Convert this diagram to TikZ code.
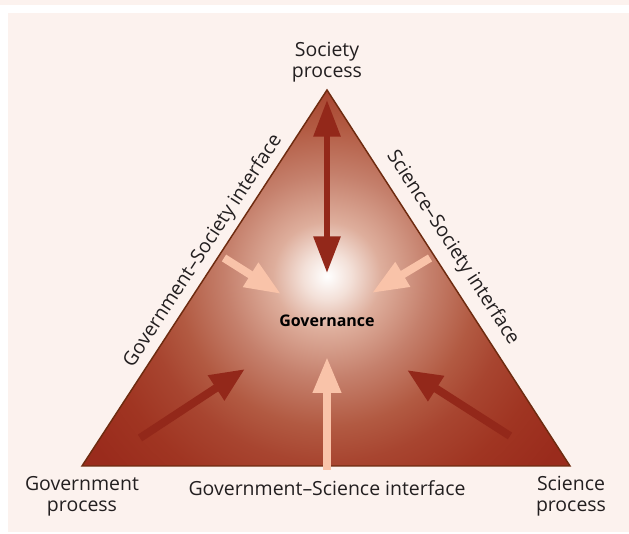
\documentclass[tikz,border=0pt]{standalone}
\usepackage{fontspec}
\setmainfont{Open Sans}
\usepackage{tikz}
\usetikzlibrary{arrows.meta,positioning}
\definecolor{gvpink}{RGB}{252,242,238}
\definecolor{gvred}{RGB}{154,43,28}
\definecolor{gvdark}{RGB}{147,40,26}
\definecolor{gvedge}{RGB}{110,43,16}
\definecolor{gvlight}{RGB}{249,195,169}
\definecolor{gvtext}{RGB}{35,31,32}
\definecolor{gvs1}{RGB}{243,224,216}
\definecolor{gvs2}{RGB}{222,174,156}
\definecolor{gvs3}{RGB}{197,128,108}
\definecolor{gvs4}{RGB}{178,90,66}
\definecolor{gvs5}{RGB}{168,69,48}
\definecolor{gvs6}{RGB}{160,53,34}
\pgfdeclareradialshading{gvglow}{\pgfpoint{0bp}{0bp}}{color(0bp)=(white); color(2bp)=(gvs1); color(4.5bp)=(gvs2); color(8.5bp)=(gvs3); color(12.5bp)=(gvs4); color(15.5bp)=(gvs5); color(19.5bp)=(gvs6); color(24bp)=(gvred); color(50bp)=(gvred)}
\tikzstyle{proclabel} = [font=\fontsize{14.6}{16}\selectfont, text=gvtext, align=center, inner sep=0pt]
\tikzstyle{darkarrow} = [draw=gvdark, line width=6pt, -{Triangle[length=26pt,width=21pt]}]
\tikzstyle{lightarrow} = [draw=gvlight, line width=6pt, -{Triangle[length=27pt,width=20pt]}]

\begin{document}
\begin{tikzpicture}[x=0.75pt, y=0.75pt]
\useasboundingbox (0,0) rectangle (629,534);
% Background
\fill[white] (0,0) rectangle (629,534);
\fill[gvpink] (0,529) rectangle (629,534);
\fill[gvpink] (8,2) rectangle (629,521);

% Corners of the triangle
\coordinate (soc) at (327,444);
\coordinate (gov) at (82,68);
\coordinate (sci) at (570,68);
\coordinate (glow) at (327,258);

% Triangle with glow
\fill[gvred] (gov) -- (soc) -- (sci) -- cycle;
\begin{scope}
\clip (gov) -- (soc) -- (sci) -- cycle;
\shade[shading=gvglow] (glow) circle (300);
\end{scope}
\draw[gvedge, line width=1.1pt, line join=miter] (gov) -- (soc) -- (sci) -- cycle;

% Arrows
\coordinate (soctop) at (327,434);
\coordinate (socmid) at (327,261);
\coordinate (gstail) at (224,276);
\coordinate (gstip) at (281,240);
\coordinate (sstail) at (430,276);
\coordinate (sstip) at (372,241);
\coordinate (gsctail) at (327,64);
\coordinate (gsctip) at (327,177);
\coordinate (govtail) at (140,96);
\coordinate (govtip) at (245,165);
\coordinate (scitail) at (510,98);
\coordinate (scitip) at (407,164);

\draw[draw=gvdark, line width=4.5pt, {Triangle[length=27.5pt,width=19.5pt]}-{Triangle[length=27.5pt,width=19.5pt]}] (soctop) -- (socmid);
\draw[lightarrow] (gstail) -- (gstip);
\draw[lightarrow] (sstail) -- (sstip);
\draw[lightarrow] (gsctail) -- (gsctip);
\draw[darkarrow] (govtail) -- (govtip);
\draw[darkarrow] (scitail) -- (scitip);

% Labels
\node (gvn) [font=\bfseries\fontsize{12}{14}\selectfont, text=black, inner sep=0pt, anchor=base] at (327,207) {Governance};
\node (socl) [proclabel] at (327,472) {Society\\process};
\node (govl) [proclabel] at (82,38) {Government\\process};
\node (scil) [proclabel] at (571,38) {Science\\process};
\node (gscl) [proclabel, anchor=base] at (327,38) {Government–Science interface};
\node (gsl) [proclabel, rotate=56.9] at (203.3,283.1) {Government–Society interface};
\node (ssl) [proclabel, rotate=-57.1] at (452.7,286.1) {Science–Society interface};
\end{tikzpicture}
\end{document}
